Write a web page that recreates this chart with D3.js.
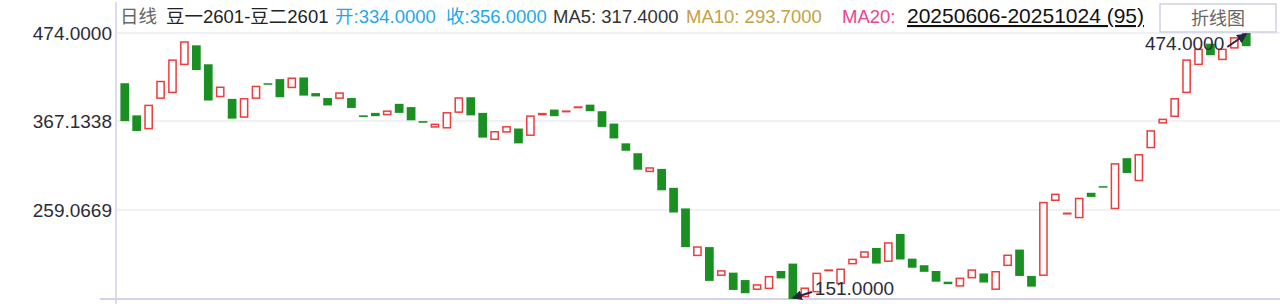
<!DOCTYPE html>
<html>
<head>
<meta charset="utf-8">
<script src="https://cdn.jsdelivr.net/npm/d3@7"></script>
<style>
    body { margin:0; background:#fff; }
    svg { display:block; font-family:"Liberation Sans", Arial, "Noto Sans CJK SC", sans-serif; }
</style>
</head>
<body>
<div id="kline"></div>
<script>
////////////////////////////////////////////////
// data
////////////////////////////////////////////////

var opens = [
    413,374,357,394,401,435,459,436,396,394,
    371,394,413,418,407,420,401,395,394,395,
    374,377,374,388,384,367,359,358,377,396,
    377,344,353,358,349,374,381,378,383,387,
    379,364,340,328,305,309,286,261,203,214,
    179,183,174,162,163,185,194,153,159,185,
    169,193,201,213,196,230,200,192,185,172,
    166,176,182,162,191,211,179,179,270,254,
    249,280,288,260,322,294,334,364,372,401,
    435,461,441,455,474
];
var closes = [
    367,355,387,416,442,464,429,392,409,370,
    395,410,412,396,420,398,397,386,402,383,
    372,373,380,377,368,365,364,378,396,374,
    347,355,361,340,374,377,373,380,385,379,
    360,346,331,308,311,283,256,214,215,173,
    186,162,158,169,179,176,151,165,183,187,
    188,200,209,194,220,199,189,184,172,169,
    177,187,171,185,205,179,166,269,279,256,
    274,275,287,316,304,327,356,370,395,442,
    455,447,455,469,458
];

var tickValues = [474.0000, 367.1338, 259.0669];
var tickLabels = ['474.0000', '367.1338', '259.0669'];

var days = d3.range(opens.length);

var titleParts = [
    {text:'日线', color:'#666'},
    {text:'豆一2601-豆二2601', color:'#222'},
    {text:'开:334.0000', color:'#1fa8ec'},
    {text:'收:356.0000', color:'#1fa8ec'},
    {text:'MA5: 317.4000', color:'#333'},
    {text:'MA10: 293.7000', color:'#c3a13f'},
    {text:'MA20:', color:'#e8468a'}
];
var titleX = [120, 166, 335, 446, 553, 686, 842];
var rangeLabel = '20250606-20251024 (95)';

////////////////////////////////////////////////
// layout
////////////////////////////////////////////////

var w = 1280, h = 304;
var axisX = 116, plotTop = 33, plotBottom = 299;
var red = '#ee3c3c', green = '#1a8f22';

var svg = d3.select('#kline')
    .append('svg')
    .attr('width', w)
    .attr('height', h);

var x = d3.scaleBand()
    .domain(days)
    .range([118.8, 1252.2])
    .paddingInner(0.27)
    .paddingOuter(0.135);

var y = d3.scaleLinear()
    .domain([151, 474])
    .range([plotBottom, plotTop]);

////////////////////////////////////////////////
// grid + axes
////////////////////////////////////////////////

svg.selectAll('line.grid')
    .data(tickValues)
    .enter()
    .append('line')
    .attr('class', 'grid')
    .attr('x1', axisX)
    .attr('x2', w)
    .attr('y1', function(d){ return y(d); })
    .attr('y2', function(d){ return y(d); })
    .attr('stroke', '#ebebf5')
    .attr('stroke-width', 1.5);

svg.selectAll('text.tick')
    .data(tickValues)
    .enter()
    .append('text')
    .attr('class', 'tick')
    .attr('x', 112)
    .attr('y', function(d){ return y(d); })
    .attr('dy', '0.36em')
    .attr('text-anchor', 'end')
    .attr('font-size', 19)
    .attr('fill', '#2b2b3a')
    .text(function(d,i){ return tickLabels[i]; });

svg.append('line')
    .attr('x1', axisX).attr('x2', axisX)
    .attr('y1', 2).attr('y2', h)
    .attr('stroke', '#dcdcef')
    .attr('stroke-width', 2);

svg.append('line')
    .attr('x1', 100).attr('x2', w)
    .attr('y1', plotBottom).attr('y2', plotBottom)
    .attr('stroke', '#d2d2ea')
    .attr('stroke-width', 2);

////////////////////////////////////////////////
// candles
////////////////////////////////////////////////

svg.selectAll('rect.candle')
    .data(days)
    .enter()
    .append('rect')
    .attr('class', 'candle')
    .attr('x', function(i){
        return closes[i] > opens[i] ? x(i)+0.75 : x(i);
    })
    .attr('width', function(i){
        return closes[i] > opens[i] ? x.bandwidth()-1.5 : x.bandwidth();
    })
    .attr('y', function(i){
        var top = y(Math.max(opens[i], closes[i]));
        return closes[i] > opens[i] ? top+0.75 : top;
    })
    .attr('height', function(i){
        var hh = Math.abs(y(opens[i]) - y(closes[i]));
        return closes[i] > opens[i] ? Math.max(hh-1.5, 0.5) : Math.max(hh, 1.5);
    })
    .attr('fill', function(i){ return closes[i] > opens[i] ? '#fff' : green; })
    .attr('stroke', function(i){ return closes[i] > opens[i] ? red : 'none'; })
    .attr('stroke-width', 1.5);

////////////////////////////////////////////////
// max / min markers
////////////////////////////////////////////////

svg.append('defs').append('marker')
    .attr('id', 'arrow')
    .attr('viewBox', '0 0 10 10')
    .attr('refX', 9).attr('refY', 5)
    .attr('markerWidth', 5).attr('markerHeight', 5)
    .attr('orient', 'auto')
    .append('path')
    .attr('d', 'M0,0 L10,5 L0,10 z')
    .attr('fill', '#262640');

var hiIdx = d3.maxIndex(days, function(i){ return Math.max(opens[i], closes[i]); });
var loIdx = d3.minIndex(days, function(i){ return Math.min(opens[i], closes[i]); });
var hiVal = Math.max(opens[hiIdx], closes[hiIdx]);
var loVal = Math.min(opens[loIdx], closes[loIdx]);

var hx = x(hiIdx) + x.bandwidth()/2, hy = y(hiVal);
var lx = x(loIdx) + x.bandwidth()/2, ly = y(loVal);

svg.append('line')
    .attr('x1', hx-19).attr('y1', hy+14)
    .attr('x2', hx).attr('y2', hy+1)
    .attr('stroke', '#262640').attr('stroke-width', 2)
    .attr('marker-end', 'url(#arrow)');

svg.append('text')
    .attr('x', hx-22).attr('y', hy+17)
    .attr('text-anchor', 'end')
    .attr('font-size', 19)
    .attr('fill', '#2b2b3a')
    .text(hiVal.toFixed(4));

svg.append('line')
    .attr('x1', lx+19).attr('y1', ly-7)
    .attr('x2', lx).attr('y2', ly-1)
    .attr('stroke', '#262640').attr('stroke-width', 2)
    .attr('marker-end', 'url(#arrow)');

svg.append('text')
    .attr('x', lx+22).attr('y', ly-4)
    .attr('font-size', 19)
    .attr('fill', '#2b2b3a')
    .text(loVal.toFixed(4));

////////////////////////////////////////////////
// title bar + button
////////////////////////////////////////////////

svg.selectAll('text.title')
    .data(titleParts)
    .enter()
    .append('text')
    .attr('class', 'title')
    .attr('x', function(d,i){ return titleX[i]; })
    .attr('y', 23)
    .attr('font-size', 18.5)
    .attr('fill', function(d){ return d.color; })
    .text(function(d){ return d.text; });

svg.append('text')
    .attr('x', 907)
    .attr('y', 23)
    .attr('font-size', 21)
    .attr('fill', '#111')
    .attr('text-decoration', 'underline')
    .text(rangeLabel);

svg.append('rect')
    .attr('x', 1160).attr('y', 4)
    .attr('width', 116).attr('height', 28)
    .attr('fill', '#fff')
    .attr('stroke', '#cfcfe4')
    .attr('stroke-width', 1.5);

svg.append('text')
    .attr('x', 1218).attr('y', 25)
    .attr('text-anchor', 'middle')
    .attr('font-size', 18)
    .attr('fill', '#666')
    .text('折线图');
</script>
</body>
</html>
